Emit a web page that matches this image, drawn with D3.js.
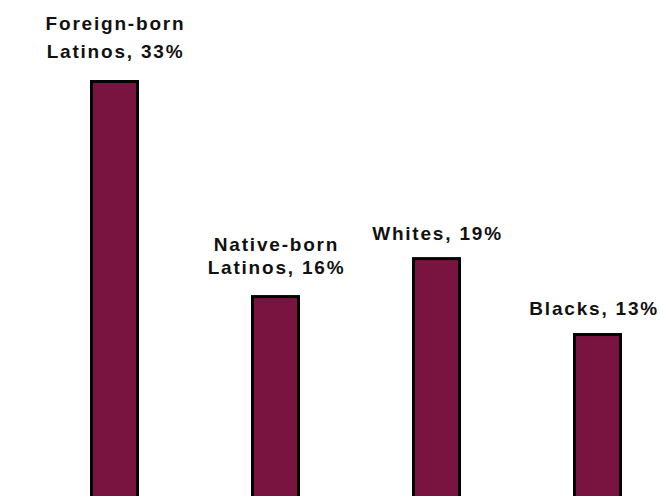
<!DOCTYPE html>
<html>
<head>
<meta charset="utf-8">
<script src="https://cdn.jsdelivr.net/npm/d3@7/dist/d3.min.js"></script>
<style>
  html, body { margin: 0; padding: 0; background: #fff; }
  svg { display: block; }
</style>
</head>
<body>
<div id="chart"></div>
<script>
// Groups and their shares (percent)
const groups = ["Foreign-born Latinos", "Native-born Latinos", "Whites", "Blacks"];
const shares = [33, 16, 19, 13];
// Label lines drawn above each bar
const labelLines = [
  ["Foreign-born", "Latinos, 33%"],
  ["Native-born", "Latinos, 16%"],
  ["Whites, 19%"],
  ["Blacks, 13%"]
];

// Label layout: lift of the last line above the bar, and gap between lines
const labelLift = [22, 21, 17, 18.5];
const lineGap = [28.5, 23.5, 0, 0];

const width = 660, height = 496;
const barWidth = 46, strokeW = 3;

const svg = d3.select("#chart").append("svg")
  .attr("width", width)
  .attr("height", height);

const x = d3.scalePoint()
  .domain(groups)
  .range([114.5, 597.5]);

const y = d3.scaleLinear()
  .domain([0, 33])
  .range([497.5, 80]);

const data = groups.map((g, i) => ({ group: g, value: shares[i], lines: labelLines[i], i }));

svg.selectAll("rect.bar")
  .data(data)
  .join("rect")
  .attr("class", "bar")
  .attr("x", d => x(d.group) - barWidth / 2)
  .attr("y", d => y(d.value) + strokeW / 2)
  .attr("width", barWidth)
  .attr("height", d => y(0) + 20 - y(d.value))
  .attr("fill", "#79133f")
  .attr("stroke", "#000")
  .attr("stroke-width", strokeW);

const labels = svg.selectAll("text.label")
  .data(data)
  .join("text")
  .attr("class", "label")
  .attr("text-anchor", "middle")
  .attr("font-family", "'Liberation Sans', Arial, sans-serif")
  .attr("font-weight", "bold")
  .attr("font-size", 19)
  .attr("letter-spacing", 1.8)
  .attr("fill", "#111");

labels.each(function (d) {
  const t = d3.select(this);
  const n = d.lines.length;
  const baseY = y(d.value) - labelLift[d.i];
  d.lines.forEach((line, k) => {
    t.append("tspan")
      .attr("x", x(d.group) + 1)
      .attr("y", baseY - (n - 1 - k) * lineGap[d.i])
      .text(line);
  });
  // keep the label inside the right edge
  const box = this.getBBox();
  const overflow = box.x + box.width - (width - 1);
  if (overflow > 0) {
    t.selectAll("tspan").attr("x", x(d.group) + 1 - overflow);
  }
});
</script>
</body>
</html>
